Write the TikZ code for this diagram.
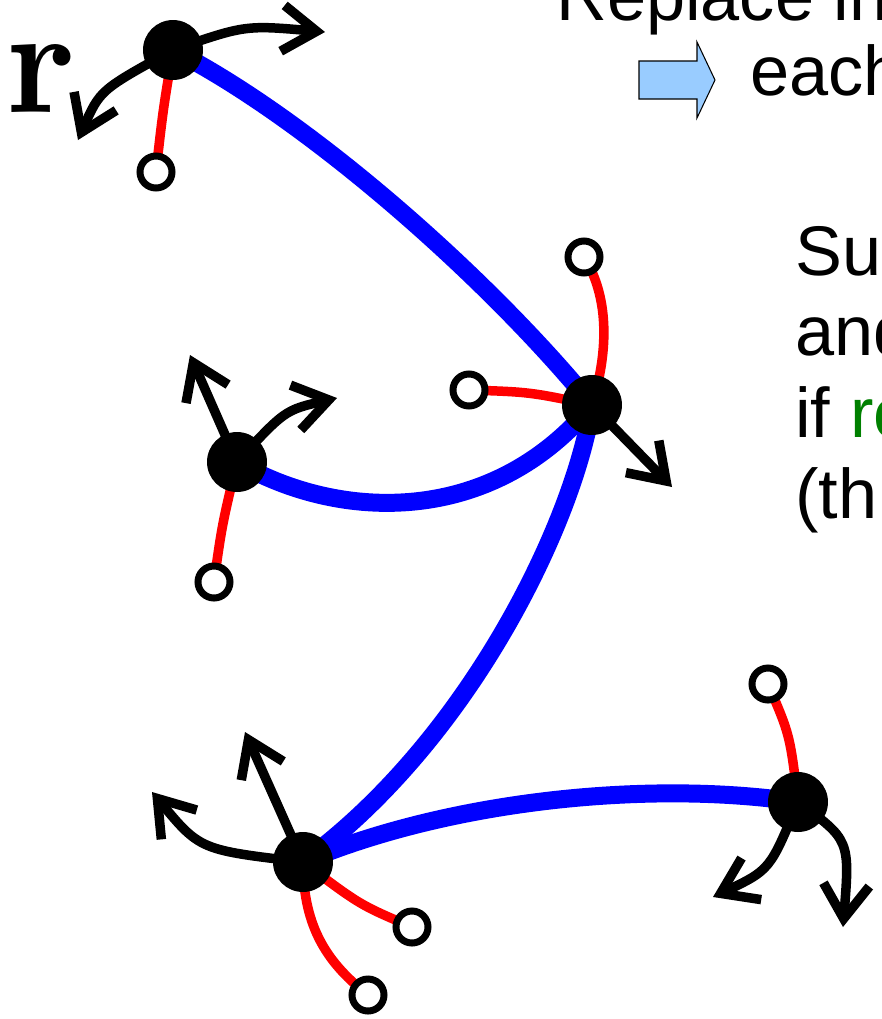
\documentclass[tikz,border=0pt]{standalone}
\usepackage{graphicx}
\usepackage[no-math]{fontspec}
\setmainfont{Liberation Sans}
\usetikzlibrary{arrows.meta,backgrounds}
\definecolor{edgeblue}{RGB}{0,0,255}
\definecolor{edgered}{RGB}{255,0,0}
\definecolor{textgreen}{RGB}{0,128,0}
\definecolor{blockblue}{RGB}{153,204,255}
\begin{document}
\begin{tikzpicture}[x=0.02cm,y=-0.02cm,
  bnode/.style={circle,fill=black,minimum size=1.2cm,inner sep=0pt},
  snode/.style={circle,draw=black,fill=white,line width=0.14cm,minimum size=0.64cm,inner sep=0pt},
  blueedge/.style={draw=edgeblue,line width=0.36cm},
  rededge/.style={draw=edgered,line width=0.19cm},
  arr/.style={draw=black,line width=0.19cm,-{Straight Barb[length=0.68cm,width=0.92cm,sharp]}},
  txt/.style={font=\fontsize{40}{48}\selectfont,inner sep=0pt,anchor=base west}]
\useasboundingbox (0,0) rectangle (882,1019);
\clip (0,0) rectangle (882,1019);
% main nodes
\node[bnode] (R) at (173,50) {};
\node[bnode] (A) at (592,405) {};
\node[bnode] (B) at (237,462) {};
\node[bnode] (C) at (303,862) {};
\node[bnode] (D) at (798,802) {};
% leaf circles
\node[snode] (r0) at (156,172) {};
\node[snode] (a1) at (584,257) {};
\node[snode] (a2) at (469,390) {};
\node[snode] (b1) at (214,582) {};
\node[snode] (c1) at (412,927) {};
\node[snode] (c2) at (368,995) {};
\node[snode] (d1) at (768,684) {};
% arrow ends
\coordinate (tR1) at (325,32);
\coordinate (tR2) at (78,140);
\coordinate (tB1) at (190,355);
\coordinate (tB2) at (337,398);
\coordinate (tA1) at (672,487);
\coordinate (tC1) at (245,732);
\coordinate (tC2) at (152,792);
\coordinate (tD1) at (713,897);
\coordinate (tD2) at (843,927);
\begin{scope}[on background layer]
  \draw[blueedge] (R.center) .. controls (310,120) and (490,280) .. (A.center);
  \draw[blueedge] (B.center) .. controls (340,522) and (492,526) .. (A.center);
  \draw[blueedge] (A.center) .. controls (575,520) and (470,740) .. (C.center);
  \draw[blueedge] (C.center) .. controls (450,800) and (650,780) .. (D.center);
  \draw[rededge] (R.center) .. controls (163,110) .. (r0.center);
  \draw[rededge] (A.center) .. controls (612,340) and (605,290) .. (a1.center);
  \draw[rededge] (A.center) .. controls (530,392) .. (a2.center);
  \draw[rededge] (B.center) .. controls (222,525) .. (b1.center);
  \draw[rededge] (C.center) .. controls (360,905) .. (c1.center);
  \draw[rededge] (C.center) .. controls (303,930) and (330,965) .. (c2.center);
  \draw[rededge] (D.center) .. controls (790,735) .. (d1.center);
  \draw[arr] (R.center) .. controls (245,25) .. (tR1);
  \draw[arr] (R.center) .. controls (100,90) .. (tR2);
  \draw[arr] (B.center) -- (tB1);
  \draw[arr] (B.center) .. controls (285,410) .. (tB2);
  \draw[arr] (A.center) -- (tA1);
  \draw[arr] (C.center) -- (tC1);
  \draw[arr] (C.center) .. controls (200,850) .. (tC2);
  \draw[arr] (D.center) .. controls (770,870) .. (tD1);
  \draw[arr] (D.center) .. controls (850,840) .. (tD2);
\end{scope}
% label r
\node[inner sep=0pt,anchor=base west] (rlabel) at (6,112) {\scalebox{8.3}[8.6]{$\mathbf{r}$}};
% block arrow
\draw[fill=blockblue,draw=black,line width=0.6pt] (639,61) -- (697,61) -- (697,42) -- (715,80) -- (697,118) -- (697,99) -- (639,99) -- cycle;
% texts
\node[txt] (t1) at (556,20) {Replace in};
\node[txt] (t2) at (750,95) {each};
\node[txt] (t3) at (795,275) {Su};
\node[txt] (t4) at (795,355) {and};
\node[txt] (t5) at (795,437) {if {\color{textgreen}ro}};
\node[txt] (t6) at (795,518) {(th};
\end{tikzpicture}
\end{document}
